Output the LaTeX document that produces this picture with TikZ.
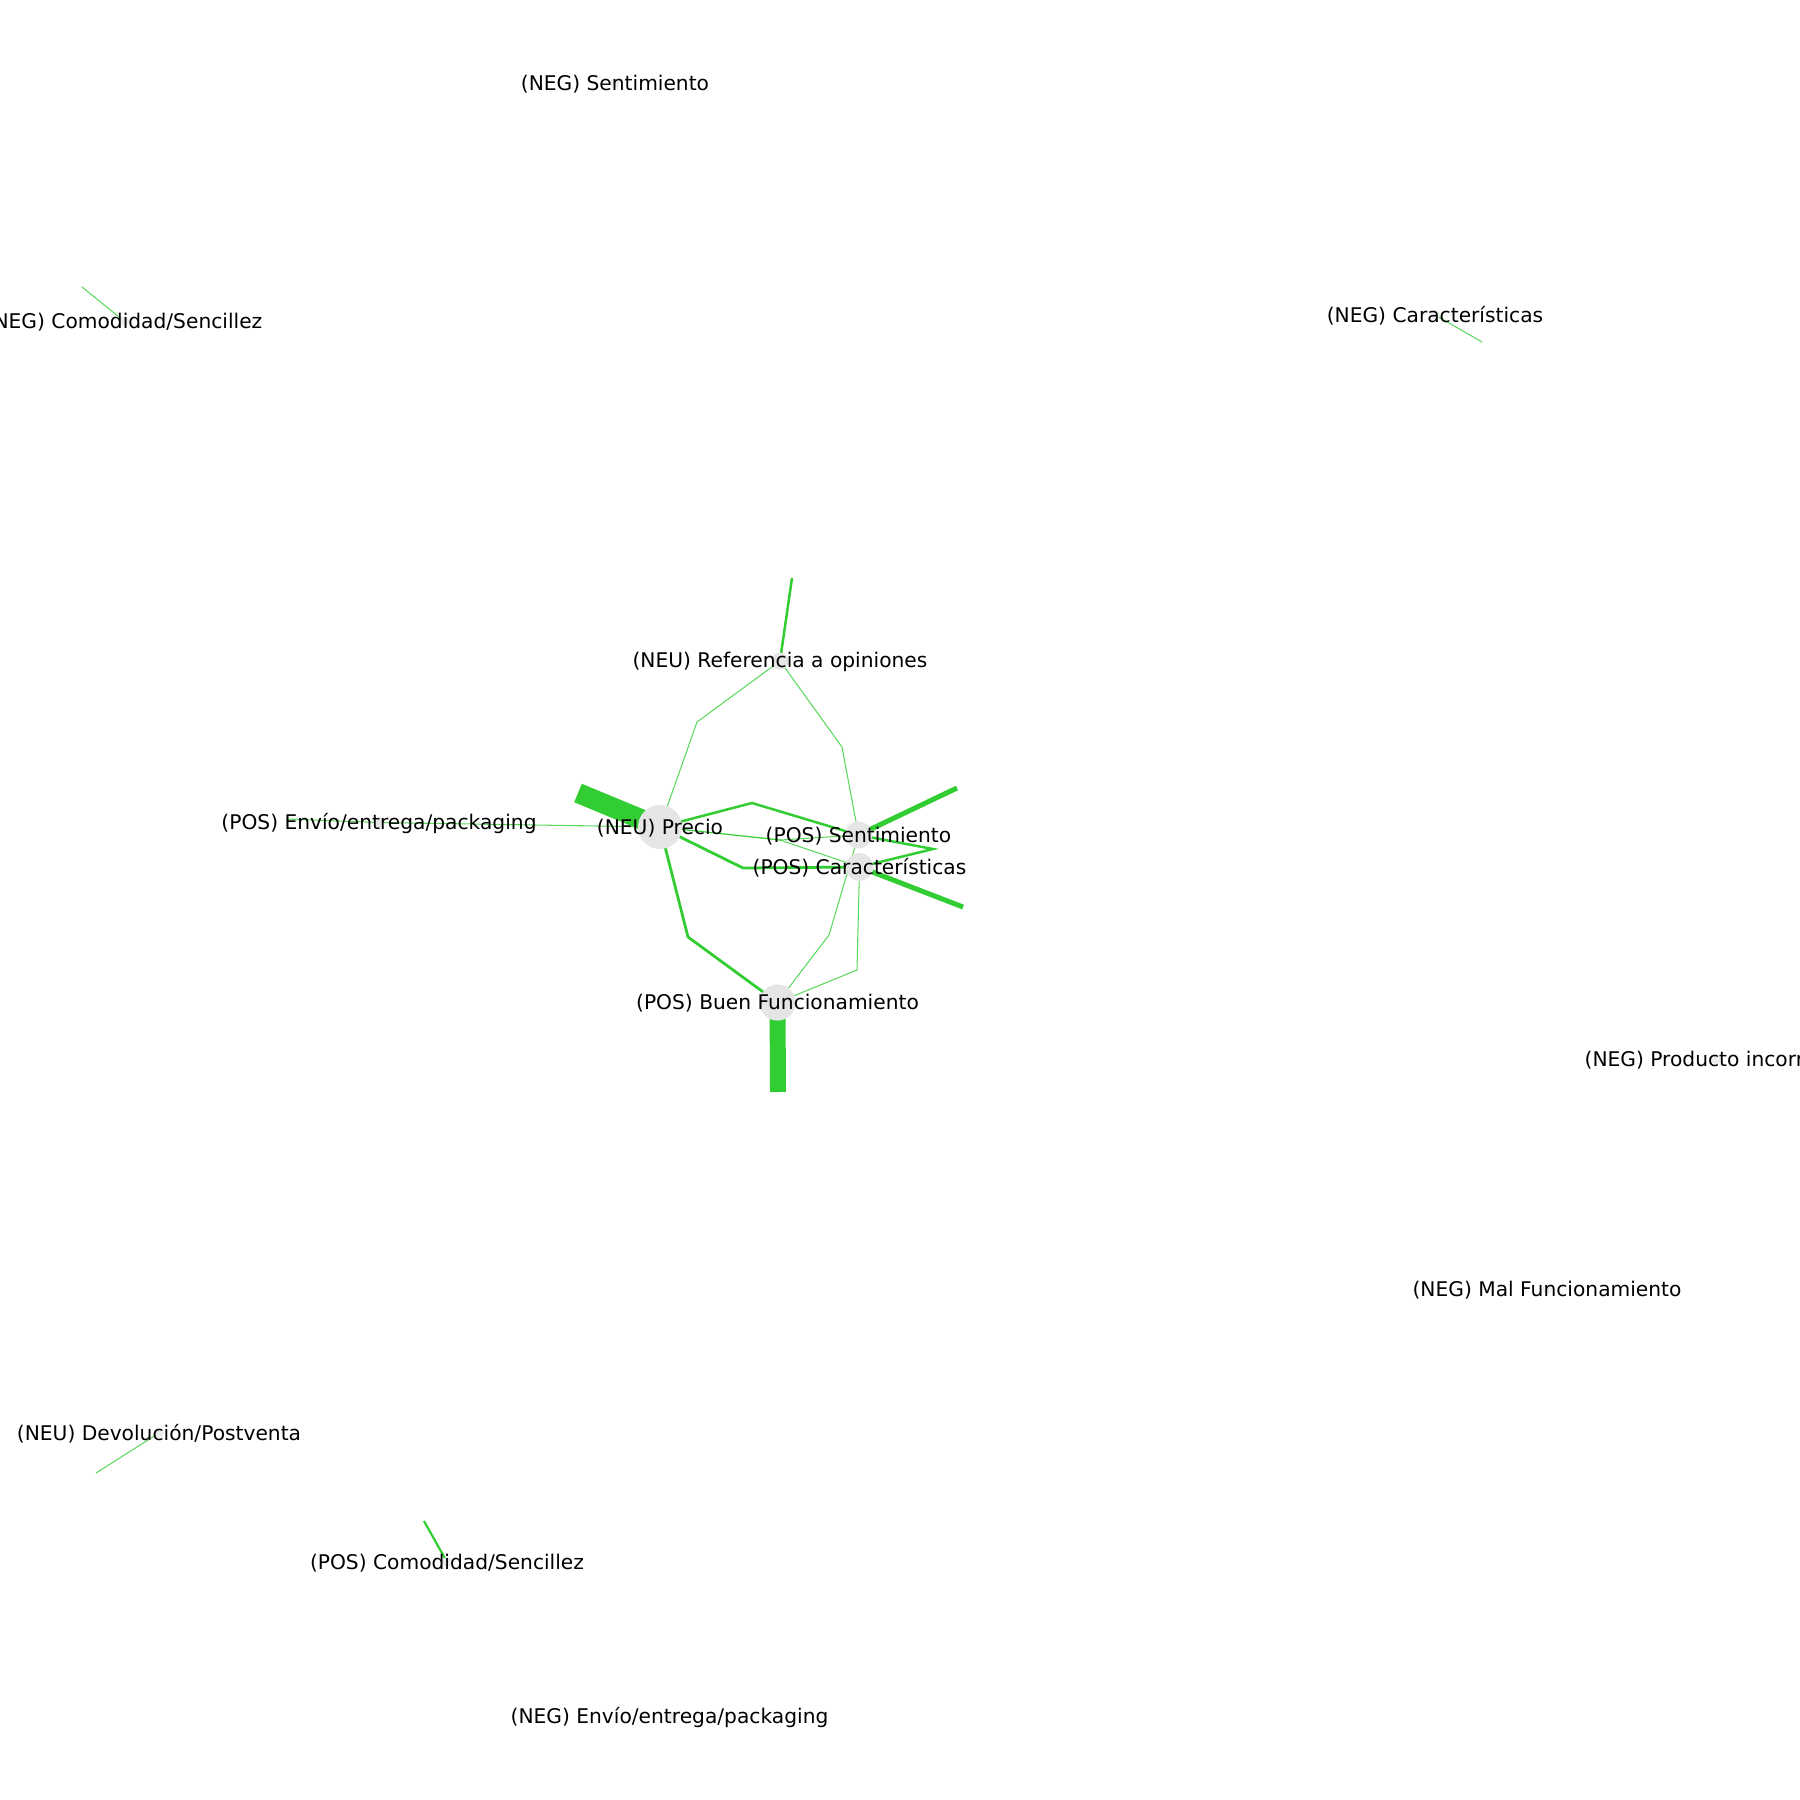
\documentclass[tikz,border=0pt]{standalone}
\usepackage{fontspec}
\setmainfont{DejaVu Sans}
\usetikzlibrary{backgrounds}
\definecolor{lime}{RGB}{50,205,50}
\definecolor{nodegray}{RGB}{229,229,229}
\definecolor{fadegray}{RGB}{236,236,236}
\tikzset{
  dot/.style={circle, fill=nodegray, draw=none, inner sep=0pt, minimum size=#1},
  fdot/.style={circle, fill=fadegray, draw=none, inner sep=0pt, minimum size=#1},
  lbl/.style={font=\fontsize{14.55}{17}\selectfont, text=black, inner sep=0pt, yshift=-0.7pt},
  thinedge/.style={draw=lime, draw opacity=0.8, line width=0.75pt},
  midedge/.style={draw=lime, line width=1.8pt},
  boldedge/.style={draw=lime, line width=3.6pt},
  hugeedge/.style={draw=lime, line width=#1},
}
\begin{document}
\begin{tikzpicture}[x=0.72pt,y=-0.72pt]
\clip (0,0) rectangle (1800,1800);
% nodes
\node[dot=31.7pt] (precio) at (660,827) {};
\node[dot=12.2pt] (ref) at (780,661) {};
\node[dot=19.4pt] (sent) at (858.5,835) {};
\node[dot=20pt] (car) at (859.5,867) {};
\node[dot=26pt] (bf) at (777.5,1002.5) {};
\node[dot=7.2pt] (envio) at (379,822.5) {};
\node[fdot=7pt] (negsent) at (615,83) {};
\node[fdot=7pt] (negcom) at (124,321) {};
\node[fdot=7pt] (negcar) at (1435,315) {};
\node[fdot=7pt] (negprod) at (1716,1059.5) {};
\node[fdot=7pt] (negmal) at (1547,1289) {};
\node[fdot=7pt] (devol) at (159,1433) {};
\node[fdot=7pt] (poscom) at (447,1562) {};
\node[fdot=7pt] (negenv) at (669.5,1717) {};
% free ends and bends
\coordinate (sPrecio) at (578,793);
\coordinate (sBF) at (778,1092);
\coordinate (sSent) at (957,788);
\coordinate (sCar) at (963,907);
\coordinate (sRef) at (792,578);
\coordinate (sEnv) at (286,819);
\coordinate (sNegCom) at (82,287);
\coordinate (sNegCar) at (1482,342);
\coordinate (sDevol) at (96,1473);
\coordinate (sPosCom) at (424,1521);
\coordinate (b1) at (752,803);
\coordinate (b2) at (743,868);
\coordinate (b3) at (688,937);
\coordinate (b4) at (933,849);
\coordinate (b5) at (697,722);
\coordinate (b6) at (842,747);
\coordinate (b7) at (780,840);
\coordinate (b8) at (829,935);
\coordinate (b9) at (857,970);
\begin{pgfonlayer}{background}
\draw[hugeedge=14.4pt] (precio.center) -- (sPrecio);
\draw[hugeedge=11.5pt] (bf.center) -- (sBF);
\draw[boldedge] (sent.center) -- (sSent);
\draw[boldedge] (car.center) -- (sCar);
\draw[midedge] (ref.center) -- (sRef);
\draw[midedge] (precio.center) -- (b1) -- (sent.center);
\draw[midedge, line width=2pt] (precio.center) -- (b2) -- (car.center);
\draw[midedge, line width=2pt] (precio.center) -- (b3) -- (bf.center);
\draw[midedge] (sent.center) -- (b4) -- (car.center);
\draw[thinedge] (ref.center) -- (b5) -- (precio.center);
\draw[thinedge] (ref.center) -- (b6) -- (sent.center);
\draw[thinedge] (precio.center) -- (b7) -- (sent.center);
\draw[thinedge] (precio.center) -- (b7) -- (car.center);
\draw[thinedge] (sent.center) -- (b8) -- (bf.center);
\draw[thinedge] (car.center) -- (b9) -- (bf.center);
\draw[thinedge] (sEnv) -- (envio.center) -- (precio.center);
\draw[thinedge] (negcom.center) -- (sNegCom);
\draw[thinedge] (negcar.center) -- (sNegCar);
\draw[thinedge] (devol.center) -- (sDevol);
\draw[midedge, line width=1.6pt] (poscom.center) -- (sPosCom);
\end{pgfonlayer}
% labels
\node[lbl] (lPrecio) at (precio) {(NEU) Precio};
\node[lbl] (lRef) at (ref) {(NEU) Referencia a opiniones};
\node[lbl] (lSent) at (sent) {(POS) Sentimiento};
\node[lbl] (lCar) at (car) {(POS) Características};
\node[lbl] (lBF) at (bf) {(POS) Buen Funcionamiento};
\node[lbl] (lEnv) at (envio) {(POS) Envío/entrega/packaging};
\node[lbl] (lNegSent) at (negsent) {(NEG) Sentimiento};
\node[lbl] (lNegCom) at (negcom) {(NEG) Comodidad/Sencillez};
\node[lbl] (lNegCar) at (negcar) {(NEG) Características};
\node[lbl] (lNegProd) at (negprod) {(NEG) Producto incorrecto};
\node[lbl] (lNegMal) at (negmal) {(NEG) Mal Funcionamiento};
\node[lbl] (lDevol) at (devol) {(NEU) Devolución/Postventa};
\node[lbl] (lPosCom) at (poscom) {(POS) Comodidad/Sencillez};
\node[lbl] (lNegEnv) at (negenv) {(NEG) Envío/entrega/packaging};
\end{tikzpicture}
\end{document}
